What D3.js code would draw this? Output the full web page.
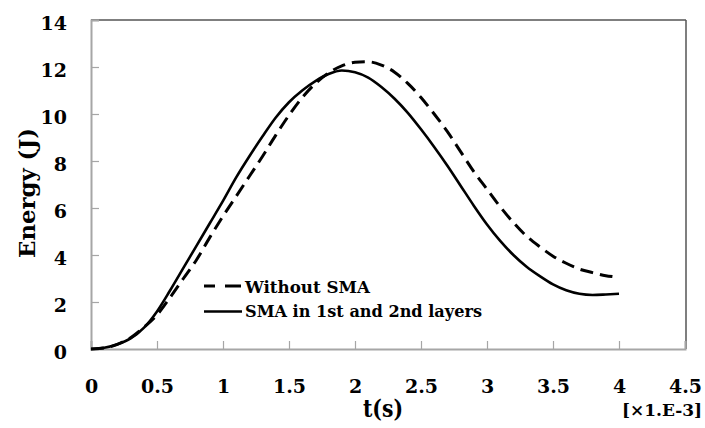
<!DOCTYPE html>
<html>
<head>
<meta charset="utf-8">
<script src="https://cdn.jsdelivr.net/npm/d3@7"></script>
<style>
  html, body { margin: 0; padding: 0; background: #fff; }
  svg { display: block; }
  .lab { font-family: "DejaVu Serif", serif; font-weight: bold; fill: #000; }
</style>
</head>
<body>
<svg id="chart" width="705" height="428"></svg>
<script>
// Time axis (×1e-3 s)
const timeWithout = [0, 0.1, 0.2, 0.3, 0.4, 0.5, 0.6, 0.7, 0.8, 0.9, 1.0, 1.1, 1.2, 1.3, 1.4, 1.5, 1.6, 1.7, 1.8, 1.9, 2.0, 2.1, 2.2, 2.3, 2.4, 2.5, 2.6, 2.7, 2.8, 2.9, 3.0, 3.1, 3.2, 3.3, 3.4, 3.5, 3.6, 3.7, 3.8, 3.9, 3.95];
const energyWithout = [0, 0.04, 0.2, 0.48, 0.92, 1.45, 2.2, 3.0, 3.8, 4.75, 5.65, 6.5, 7.35, 8.2, 9.1, 9.95, 10.7, 11.3, 11.75, 12.05, 12.2, 12.22, 12.08, 11.78, 11.3, 10.7, 10.0, 9.25, 8.4, 7.55, 6.8, 6.05, 5.38, 4.8, 4.35, 3.95, 3.65, 3.4, 3.25, 3.12, 3.08];

const timeSMA = [0, 0.1, 0.2, 0.3, 0.4, 0.5, 0.6, 0.7, 0.8, 0.9, 1.0, 1.1, 1.2, 1.3, 1.4, 1.5, 1.6, 1.7, 1.8, 1.9, 2.0, 2.1, 2.2, 2.3, 2.4, 2.5, 2.6, 2.7, 2.8, 2.9, 3.0, 3.1, 3.2, 3.3, 3.4, 3.5, 3.6, 3.7, 3.8, 3.9, 4.0];
const energySMA = [0, 0.05, 0.2, 0.45, 0.9, 1.6, 2.5, 3.45, 4.4, 5.35, 6.3, 7.3, 8.2, 9.05, 9.85, 10.5, 11.0, 11.4, 11.7, 11.85, 11.78, 11.55, 11.15, 10.65, 10.05, 9.35, 8.6, 7.8, 6.95, 6.1, 5.3, 4.6, 4.0, 3.5, 3.1, 2.75, 2.5, 2.35, 2.3, 2.32, 2.35];

const xTicks = [0, 0.5, 1, 1.5, 2, 2.5, 3, 3.5, 4, 4.5];
const yTicks = [0, 2, 4, 6, 8, 10, 12, 14];
const seriesNames = ["Without SMA", "SMA in 1st and 2nd layers"];

const svg = d3.select("#chart");
const plotLeft = 91, plotRight = 686, plotTop = 20, plotBottom = 349;

const x = d3.scaleLinear().domain([0, 4.5]).range([plotLeft, plotRight - 1]);
const y = d3.scaleLinear().domain([0, 14]).range([plotBottom, plotTop]);

// Frame: light left/bottom axes, darker top/right border
svg.append("line").attr("x1", plotLeft).attr("x2", plotRight).attr("y1", plotTop).attr("y2", plotTop)
  .attr("stroke", "#555").attr("stroke-width", 1.5);
svg.append("line").attr("x1", plotRight).attr("x2", plotRight).attr("y1", plotTop).attr("y2", plotBottom)
  .attr("stroke", "#555").attr("stroke-width", 1.5);

function styleText(sel, size) {
  sel.attr("class", "lab").style("font-size", size + "px");
}

// Y axis with inward ticks
const yAxis = d3.axisLeft(y).tickValues(yTicks).tickSize(-8).tickPadding(24).tickFormat(d3.format("d"));
const gy = svg.append("g").attr("transform", `translate(${plotLeft},0)`).call(yAxis);
gy.attr("font-family", null).attr("font-size", null);
gy.select(".domain").attr("stroke", "#a6a6a6").attr("stroke-width", 2);
gy.selectAll(".tick line").attr("stroke", "#a6a6a6").attr("stroke-width", 1.2);
gy.selectAll(".tick text").call(styleText, 19).attr("dy", "0.5em");

// X axis with inward ticks
const xAxis = d3.axisBottom(x).tickValues(xTicks).tickSize(-8).tickPadding(31).tickFormat(d => String(d));
const gx = svg.append("g").attr("transform", `translate(0,${plotBottom})`).call(xAxis);
gx.attr("font-family", null).attr("font-size", null);
gx.select(".domain").attr("stroke", "#a6a6a6").attr("stroke-width", 2);
gx.selectAll(".tick line").attr("stroke", "#a6a6a6").attr("stroke-width", 1.2);
gx.selectAll(".tick text").call(styleText, 19);

// Axis titles
svg.append("text")
  .attr("transform", "translate(35,193) rotate(-90)")
  .attr("text-anchor", "middle")
  .attr("textLength", 130).attr("lengthAdjust", "spacingAndGlyphs")
  .call(styleText, 23)
  .text("Energy (J)");
svg.append("text")
  .attr("x", 383).attr("y", 417)
  .attr("text-anchor", "middle")
  .attr("textLength", 40).attr("lengthAdjust", "spacingAndGlyphs")
  .call(styleText, 24)
  .text("t(s)");
svg.append("text")
  .attr("x", 702).attr("y", 416)
  .attr("text-anchor", "end")
  .attr("textLength", 80).attr("lengthAdjust", "spacingAndGlyphs")
  .call(styleText, 16)
  .text("[×1.E-3]");

// Curves
const line = d3.line().x(d => x(d[0])).y(d => y(d[1])).curve(d3.curveMonotoneX);
const withoutData = d3.zip(timeWithout, energyWithout);
const smaData = d3.zip(timeSMA, energySMA);

svg.append("path").datum(withoutData)
  .attr("d", line)
  .attr("fill", "none").attr("stroke", "#000")
  .attr("stroke-width", 3).attr("stroke-dasharray", "13,7");
svg.append("path").datum(smaData)
  .attr("d", line)
  .attr("fill", "none").attr("stroke", "#000")
  .attr("stroke-width", 2.6);

// Legend
const legend = svg.append("g");
const rows = [
  { name: seriesNames[0], dash: "11,10,16", width: 3, y: 286, base: 293, len: 125 },
  { name: seriesNames[1], dash: null, width: 2.6, y: 311.5, base: 317, len: 237 }
];
rows.forEach(r => {
  legend.append("line")
    .attr("x1", 204).attr("x2", 242).attr("y1", r.y).attr("y2", r.y)
    .attr("stroke", "#000").attr("stroke-width", r.width)
    .attr("stroke-dasharray", r.dash);
  legend.append("text")
    .attr("x", 245).attr("y", r.base)
    .attr("textLength", r.len).attr("lengthAdjust", "spacingAndGlyphs")
    .call(styleText, 16)
    .text(r.name);
});
</script>
</body>
</html>
